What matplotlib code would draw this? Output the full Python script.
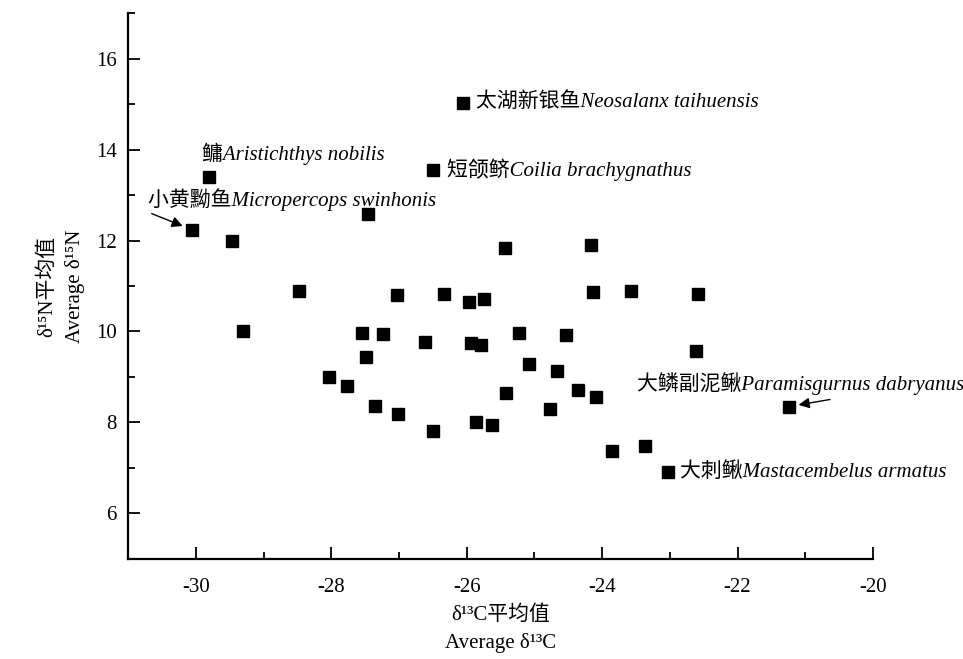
"""
Scatter of average d13C vs d15N values for fish species.
"""

import matplotlib
matplotlib.use("Agg")
import matplotlib.pyplot as plt
from matplotlib.ticker import MultipleLocator

plt.rcParams['font.family'] = ['Liberation Serif', 'Noto Sans CJK SC', 'DejaVu Serif']
plt.rcParams['axes.unicode_minus'] = False

# average d13C / d15N per species
d13c = [-30.06, -29.46, -29.30, -28.48, -27.45, -27.03, -27.54, -27.23, -27.48,
        -28.03, -27.77, -27.35, -27.02, -26.33, -26.61, -26.50, -25.97, -25.74,
        -25.44, -25.94, -25.79, -25.86, -25.63, -25.22, -25.42, -25.08, -24.67,
        -24.53, -24.77, -24.35, -24.09, -24.16, -24.14, -23.58, -23.85, -23.36,
        -23.02, -22.59, -22.62, -21.24, -26.06, -26.49, -29.80]
d15n = [12.24, 12.00, 10.00, 10.90, 12.58, 10.80, 9.96, 9.94, 9.44,
        9.00, 8.80, 8.37, 8.19, 10.83, 9.76, 7.82, 10.64, 10.72,
        11.83, 9.75, 9.70, 8.00, 7.95, 9.96, 8.65, 9.29, 9.12,
        9.92, 8.29, 8.71, 8.57, 11.90, 10.86, 10.89, 7.37, 7.48,
        6.90, 10.82, 9.57, 8.35, 15.03, 13.56, 13.39]

# labelled species: (index into the arrays above, label)
label_idx = [40, 41, 42, 0, 39, 36]
label_text = ['太湖新银鱼Neosalanx taihuensis',
              '短颌鲚Coilia brachygnathus',
              '鳙Aristichthys nobilis',
              '小黄黝鱼Micropercops swinhonis',
              '大鳞副泥鳅Paramisgurnus dabryanus',
              '大刺鳅Mastacembelus armatus']

# label placement relative to the marker, in pixels
label_offset = [(13, 0), (14, 0), (-7, 23), (-44, 30), (-152, 23), (12, 0)]
# arrow tails (pixels from the marker), None = no arrow
arrow_tail = [None, None, None, (-40, 16), (41, 7), None]

fig = plt.figure(figsize=(9.63, 6.59), dpi=100)
ax = fig.add_axes([0.133, 0.152, 0.7735, 0.828])

ax.plot(d13c, d15n, 's', color='black', markersize=8.5, linestyle='none')

for i, txt, off, tail in zip(label_idx, label_text, label_offset, arrow_tail):
    xy = (d13c[i], d15n[i])
    ax.annotate(txt, xy=xy, xytext=off, textcoords='offset pixels',
                ha='left', va='center', fontsize=15, style='italic')
    if tail is not None:
        ax.annotate('', xy=xy, xytext=tail, textcoords='offset pixels',
                    arrowprops=dict(arrowstyle='-|>', color='black', lw=1.0,
                                    mutation_scale=16, shrinkA=0, shrinkB=7))

ax.set_xlim(-31, -20)
ax.set_ylim(5, 17)
ax.xaxis.set_major_locator(MultipleLocator(2))
ax.xaxis.set_minor_locator(MultipleLocator(1))
ax.yaxis.set_major_locator(MultipleLocator(2))
ax.yaxis.set_minor_locator(MultipleLocator(1))

ax.spines['top'].set_visible(False)
ax.spines['right'].set_visible(False)
for s in ('left', 'bottom'):
    ax.spines[s].set_linewidth(1.6)

ax.tick_params(which='major', direction='in', length=8.5, width=1.3, labelsize=15)
ax.tick_params(which='minor', direction='in', length=5, width=1.3)
ax.tick_params(axis='x', which='major', pad=14)
ax.tick_params(axis='y', which='major', pad=8)

ax.set_xlabel('δ¹³C平均值\nAverage δ¹³C', fontsize=15, labelpad=6, linespacing=1.5)
ax.set_ylabel('δ¹⁵N平均值\nAverage δ¹⁵N', fontsize=15, labelpad=8, linespacing=1.5)

fig.savefig('out.png', dpi=100)
